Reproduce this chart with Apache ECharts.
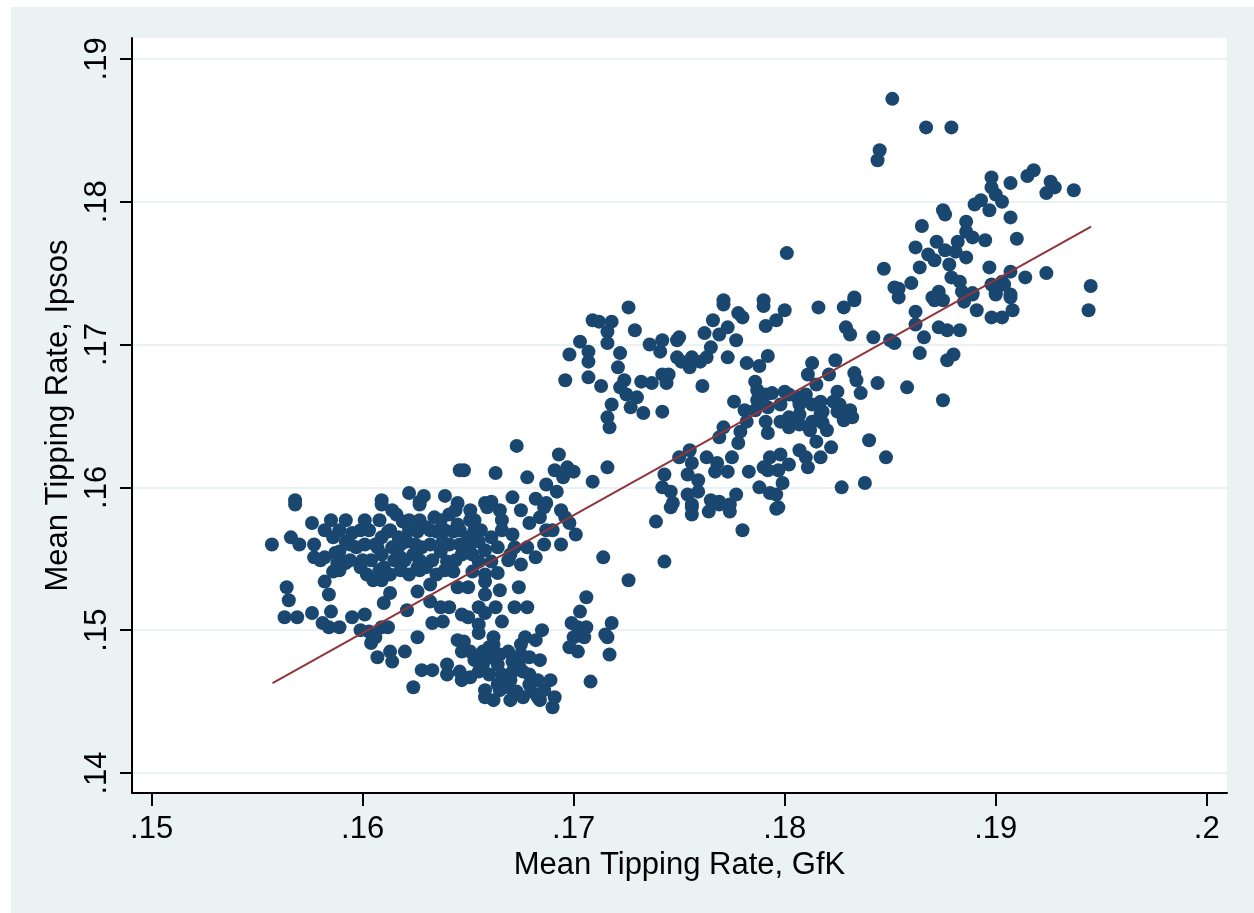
<!DOCTYPE html>
<html>
<head>
<meta charset="utf-8">
<script src="https://cdn.jsdelivr.net/npm/echarts@6/dist/echarts.min.js"></script>
<style>
html,body{margin:0;padding:0;background:#fff;}
#chart{width:1254px;height:913px;}
</style>
</head>
<body>
<div id="chart"></div>
<script>
// Axis ticks and labels
const xTicks = [0.15, 0.16, 0.17, 0.18, 0.19, 0.20];
const xTickLabels = ['.15', '.16', '.17', '.18', '.19', '.2'];
const yTicks = [0.14, 0.15, 0.16, 0.17, 0.18, 0.19];
const yTickLabels = ['.14', '.15', '.16', '.17', '.18', '.19'];
const xTitle = 'Mean Tipping Rate, GfK';
const yTitle = 'Mean Tipping Rate, Ipsos';

// Fitted line end points [GfK, Ipsos]
const fitLine = [[0.15573, 0.1463], [0.19452, 0.17826]];

// Points [GfK, Ipsos], grouped by region
const ptsTopRight = [
[.1851,.1872],[.1845,.1836],[.1844,.1829],[.1801,.1764],[.1847,.1753],[.1852,.1740],[.1771,.1731],[.1790,.1731],[.1833,.1733],
[.1867,.1852],[.1879,.1852],[.1898,.1817],[.1907,.1813],[.1918,.1822],[.1915,.1818],[.1926,.1814],[.1928,.1810],[.1924,.1806],
[.1937,.1808],[.1898,.1810],[.1900,.1805],[.1903,.1800],[.1893,.1801],[.1890,.1798],[.1897,.1794],[.1875,.1794],[.1876,.1791],
[.1907,.1789],[.1886,.1786],[.1865,.1783],[.1886,.1779],[.1889,.1775],[.1895,.1773],[.1910,.1774],[.1862,.1768],[.1872,.1772],
[.1876,.1766],[.1882,.1772],[.1868,.1763],[.1871,.1759],[.1881,.1765],[.1886,.1761],[.1878,.1756],[.1864,.1754],[.1879,.1747],
[.1883,.1744],[.1897,.1754],[.1907,.1751],[.1914,.1747],[.1924,.1750],[.1945,.1741],[.1860,.1743],[.1854,.1739],[.1873,.1737],
[.1870,.1733],[.1889,.1736],[.1898,.1742],[.1903,.1744],[.1900,.1736],[.1907,.1735],[.1884,.1737],[.1904,.1742]
];
const ptsRight = [
[.1854,.1733],[.1871,.1731],[.1875,.1731],[.1885,.1730],[.1889,.1735],[.1900,.1735],[.1907,.1733],[.1908,.1724],[.1903,.1719],
[.1898,.1719],[.1891,.1724],[.1944,.1724],[.1862,.1723],[.1862,.1714],[.1873,.1712],[.1877,.1710],[.1883,.1710],[.1866,.1705],
[.1852,.1701],[.1864,.1694],[.1880,.1693],[.1877,.1689],[.1858,.1670],[.1875,.1661]
];
const ptsMidRight = [
[.1771,.1728],[.1778,.1722],[.1780,.1719],[.1790,.1727],[.1800,.1724],[.1796,.1717],[.1791,.1713],[.1816,.1726],[.1828,.1726],
[.1833,.1731],[.1829,.1712],[.1831,.1707],[.1842,.1705],[.1850,.1703],[.1766,.1717],[.1773,.1712],[.1762,.1708],[.1769,.1707],
[.1777,.1703],[.1750,.1705],[.1765,.1698],[.1763,.1691],[.1756,.1691],[.1751,.1688],[.1755,.1684],[.1760,.1688],[.1773,.1691],
[.1782,.1687],[.1788,.1685],[.1792,.1692],[.1761,.1671],[.1813,.1687],[.1811,.1679],[.1824,.1689],[.1821,.1679],[.1815,.1672],
[.1833,.1680],[.1834,.1675],[.1844,.1673],[.1836,.1666],[.1786,.1674],[.1787,.1668],[.1787,.1661],[.1776,.1660],[.1781,.1654],
[.1794,.1666],[.1800,.1667],[.1792,.1656],[.1798,.1658],[.1806,.1663],[.1810,.1665],[.1807,.1651],[.1813,.1658],[.1817,.1660],
[.1825,.1667],[.1823,.1660],[.1818,.1653],[.1825,.1653],[.1831,.1654],[.1832,.1649],[.1802,.1649],[.1798,.1646],[.1807,.1644],
[.1813,.1646],[.1818,.1645],[.1820,.1640],[.1815,.1632],[.1822,.1628],[.1817,.1621],[.1802,.1642],[.1791,.1646],[.1792,.1638],
[.1782,.1646],[.1779,.1639],[.1771,.1642],[.1769,.1635],[.1778,.1631],[.1755,.1626],[.1840,.1633],[.1848,.1621],[.1763,.1621],
[.1768,.1617],[.1775,.1621],[.1773,.1611],[.1767,.1611],[.1756,.1617],[.1750,.1621],[.1754,.1609],[.1759,.1605],[.1759,.1597],
[.1754,.1595],[.1756,.1588],[.1765,.1591],[.1769,.1590],[.1777,.1595],[.1774,.1588],[.1783,.1611],[.1790,.1614],[.1793,.1621],
[.1798,.1623],[.1802,.1616],[.1797,.1612],[.1792,.1612],[.1799,.1603],[.1788,.1600],[.1793,.1596],[.1796,.1595],[.1797,.1586],
[.1807,.1626],[.1810,.1621],[.1811,.1614],[.1827,.1600],[.1838,.1603],
[.1756,.1586],[.1756,.1581],[.1764,.1583],[.1774,.1583],[.1769,.1588],[.1780,.1570],[.1796,.1585],
[.1802,.1665],[.1807,.1658],[.1817,.1651],[.1828,.1647],[.1826,.1658],[.1786,.1654],[.1791,.1665],[.1812,.1640]
];
const ptsMidLeft = [
[.1726,.1726],[.1709,.1717],[.1712,.1716],[.1718,.1716],[.1716,.1709],[.1716,.1701],[.1729,.1710],[.1703,.1702],[.1698,.1693],
[.1707,.1695],[.1707,.1688],[.1722,.1694],[.1721,.1684],[.1696,.1675],[.1707,.1677],[.1713,.1671],[.1736,.1700],[.1742,.1703],
[.1741,.1695],[.1749,.1703],[.1749,.1691],[.1724,.1675],[.1722,.1670],[.1732,.1674],[.1737,.1673],[.1742,.1679],[.1745,.1679],
[.1744,.1673],[.1725,.1665],[.1730,.1663],[.1727,.1656],[.1718,.1658],[.1716,.1649],[.1717,.1642],[.1733,.1652],[.1742,.1653],
[.1673,.1629],[.1693,.1623],[.1648,.1612],[.1663,.1610],[.1678,.1607],[.1691,.1612],[.1697,.1614],[.1700,.1611],[.1695,.1607],
[.1687,.1602],[.1692,.1597],[.1709,.1604],[.1716,.1614],[.1658,.1589],[.1661,.1590],[.1671,.1593],[.1682,.1592],[.1687,.1589],
[.1743,.1609],[.1742,.1600],[.1746,.1597],[.1747,.1589]
];
const ptsLowLeft = [
[.1568,.1591],[.1609,.1591],[.1622,.1596],[.1629,.1594],[.1627,.1590],[.1639,.1594],[.1645,.1589],[.1646,.1612],[.1614,.1584],
[.1568,.1588],[.1576,.1575],[.1585,.1577],[.1582,.1570],[.1586,.1565],[.1566,.1565],[.1557,.1560],[.1577,.1551],[.1582,.1551],
[.1587,.1554],[.1595,.1568],[.1592,.1562],[.1589,.1555],[.1588,.1547],[.1586,.1541],[.1582,.1534],[.1592,.1547],[.1597,.1558],
[.1600,.1549],[.1599,.1544],[.1602,.1539],[.1605,.1535],[.1607,.1558],[.1609,.1565],[.1612,.1569],[.1609,.1553],[.1610,.1544],
[.1613,.1539],[.1609,.1535],[.1614,.1558],[.1617,.1565],[.1618,.1551],[.1616,.1581],[.1619,.1576],[.1621,.1562],[.1626,.1569],
[.1630,.1572],[.1624,.1553],[.1626,.1544],[.1628,.1558],[.1622,.1539],[.1626,.1527],[.1632,.1532],[.1630,.1544],[.1634,.1579],
[.1635,.1569],[.1638,.1562],[.1637,.1555],[.1641,.1581],[.1644,.1584],[.1643,.1569],[.1645,.1574],[.1640,.1548],[.1643,.1541],
[.1646,.1560],[.1647,.1553],[.1635,.1539],[.1645,.1530],[.1632,.1520],[.1637,.1516],[.1641,.1516],[.1633,.1505],[.1638,.1506],
[.1647,.1511],[.1645,.1493],[.1647,.1485],[.1613,.1526],[.1610,.1519],[.1621,.1514],[.1584,.1525],[.1564,.1530],[.1565,.1521],
[.1563,.1509],[.1569,.1509],[.1576,.1512],[.1585,.1513],[.1581,.1505],[.1584,.1502],[.1589,.1502],[.1595,.1509],[.1601,.1511],
[.1599,.1500],[.1603,.1499],[.1609,.1502],[.1612,.1502],[.1604,.1491],[.1606,.1495],[.1607,.1481],[.1613,.1485],[.1614,.1478],
[.1620,.1485],[.1626,.1495],[.1628,.1472],[.1633,.1472],[.1624,.1460],[.1640,.1476],[.1640,.1469],[.1646,.1471],[.1647,.1465],
[.1609,.1588],[.1627,.1588],
[.1589,.1570],[.1599,.1570],[.1603,.1570],[.1613,.1570],[.1622,.1570],[.1632,.1570],[.1639,.1570],[.1646,.1570],[.1653,.1570],
[.1570,.1560],[.1577,.1560],[.1594,.1560],[.1601,.1560],[.1606,.1560],[.1618,.1560],[.1625,.1560],[.1632,.1560],[.1641,.1560],
[.1651,.1560],[.1580,.1549],[.1594,.1549],[.1604,.1549],[.1615,.1549],[.1620,.1549],[.1627,.1549],[.1633,.1549],[.1644,.1549],
[.1592,.1577],[.1601,.1577],[.1608,.1577],[.1622,.1577],[.1627,.1577],[.1637,.1577],[.1651,.1577],
[.1589,.1542],[.1608,.1542],[.1618,.1542],[.1627,.1542],[.1639,.1542]
];
const ptsLowMid = [
[.1659,.1586],[.1686,.1586],[.1653,.1577],[.1656,.1570],[.1666,.1577],[.1666,.1570],[.1671,.1567],[.1679,.1575],[.1687,.1570],
[.1690,.1570],[.1696,.1579],[.1698,.1575],[.1701,.1567],[.1650,.1565],[.1655,.1562],[.1661,.1565],[.1664,.1558],[.1672,.1558],
[.1678,.1558],[.1682,.1551],[.1669,.1549],[.1652,.1553],[.1655,.1548],[.1661,.1548],[.1652,.1541],[.1658,.1539],[.1664,.1540],
[.1650,.1530],[.1658,.1534],[.1674,.1530],[.1714,.1551],[.1726,.1535],[.1739,.1576],[.1743,.1548],[.1746,.1586],[.1706,.1523],
[.1655,.1516],[.1658,.1512],[.1663,.1516],[.1672,.1516],[.1678,.1516],[.1666,.1506],[.1650,.1509],[.1655,.1504],[.1655,.1498],
[.1703,.1513],[.1699,.1505],[.1702,.1502],[.1706,.1502],[.1700,.1495],[.1705,.1495],[.1698,.1488],[.1702,.1485],[.1718,.1505],
[.1715,.1497],[.1716,.1495],[.1717,.1483],[.1708,.1464],[.1685,.1500],[.1677,.1495],[.1682,.1493],[.1675,.1490],[.1679,.1481],
[.1662,.1495],[.1662,.1490],[.1648,.1492],[.1651,.1485],[.1657,.1485],[.1669,.1485],[.1671,.1478],[.1661,.1481],[.1664,.1476],
[.1657,.1476],[.1651,.1467],[.1655,.1471],[.1660,.1469],[.1666,.1469],[.1671,.1471],[.1674,.1476],[.1676,.1471],[.1679,.1469],
[.1683,.1465],[.1658,.1453],[.1669,.1460],[.1673,.1457],[.1676,.1453],[.1680,.1457],[.1683,.1453],[.1664,.1462],[.1691,.1453],
[.1690,.1446],
[.1653,.1479],[.1660,.1488],[.1665,.1483],[.1675,.1483],[.1684,.1479],[.1658,.1458],[.1665,.1458],[.1670,.1465],[.1679,.1462],
[.1686,.1458],[.1689,.1465],[.1662,.1451],[.1670,.1451],[.1684,.1451],
[.1651,.1584],[.1665,.1584],[.1675,.1584],[.1684,.1579],[.1694,.1584],[.1658,.1556],[.1670,.1553],[.1675,.1546],[.1686,.1560],
[.1694,.1560],[.1665,.1528],[.1658,.1525]
];

const points = [].concat(ptsTopRight, ptsRight, ptsMidRight, ptsMidLeft, ptsLowLeft, ptsLowMid);

const FONT = '"Liberation Sans", Arial, sans-serif';
const chart = echarts.init(document.getElementById('chart'), null, {renderer: 'canvas'});

function lab(ticks, labels) {
  return function (v) {
    const i = ticks.findIndex(t => Math.abs(t - v) < 1e-9);
    return i >= 0 ? labels[i] : '';
  };
}

chart.setOption({
  animation: false,
  backgroundColor: '#ffffff',
  graphic: [{
    type: 'rect', z: -100, silent: true,
    shape: {x: 11, y: 7, width: 1243, height: 906},
    style: {fill: '#EAF2F3'}
  }],
  grid: {
    left: 132, top: 38, right: 27, bottom: 120,
    show: true, backgroundColor: '#ffffff', borderWidth: 0, containLabel: false
  },
  xAxis: {
    type: 'value', min: 0.14907, max: 0.20096,
    name: xTitle, nameLocation: 'middle', nameGap: 55,
    nameTextStyle: {color: '#000', fontSize: 31, fontFamily: FONT},
    axisLine: {show: true, onZero: false, lineStyle: {color: '#000', width: 2}},
    axisTick: {show: true, length: 13, lineStyle: {color: '#000', width: 2}, customValues: xTicks},
    axisLabel: {customValues: xTicks, formatter: lab(xTicks, xTickLabels), color: '#000', fontSize: 31, fontFamily: FONT, margin: 21},
    splitLine: {show: false}
  },
  yAxis: {
    type: 'value', min: 0.1386, max: 0.19146,
    name: yTitle, nameLocation: 'middle', nameGap: 55,
    nameTextStyle: {color: '#000', fontSize: 31, fontFamily: FONT},
    axisLine: {show: true, onZero: false, lineStyle: {color: '#000', width: 2}},
    axisTick: {show: true, length: 12, lineStyle: {color: '#000', width: 2}, customValues: yTicks},
    axisLabel: {customValues: yTicks, formatter: lab(yTicks, yTickLabels), rotate: 90, color: '#000', fontSize: 31, fontFamily: FONT, margin: 19},
    splitLine: {show: true, lineStyle: {color: '#EAF2F3', width: 2}}
  },
  series: [{
    type: 'scatter',
    data: points,
    symbol: 'circle',
    symbolSize: 14,
    itemStyle: {color: '#1A476F', opacity: 1},
    z: 2
  }, {
    type: 'line',
    data: fitLine,
    symbol: 'none',
    lineStyle: {color: '#90353B', width: 2},
    z: 3
  }]
});
</script>
</body>
</html>
